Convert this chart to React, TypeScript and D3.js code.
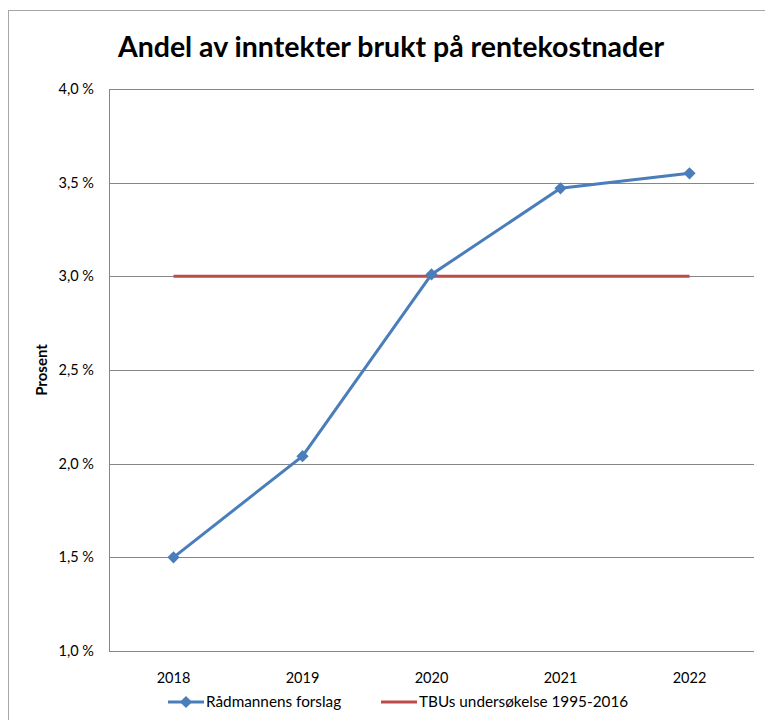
import React, { useEffect, useRef } from 'react';
import * as d3 from 'd3';

const years = ['2018', '2019', '2020', '2021', '2022'];
const radmannensForslag = [1.5, 2.04, 3.01, 3.47, 3.55];
const tbuUndersokelse = [3.0, 3.0, 3.0, 3.0, 3.0];
const yTicks = [1.0, 1.5, 2.0, 2.5, 3.0, 3.5, 4.0];

const App = () => {
  const ref = useRef<SVGSVGElement>(null);

  useEffect(() => {
    const svg = d3.select(ref.current);
    svg.selectAll('*').remove();
    const font = 'Lato, "Open Sans", sans-serif';

    const left = 109, right = 754, top = 89, bottom = 651;

    const x = d3.scaleBand().domain(years).range([left, right]);
    const y = d3.scaleLinear().domain([1, 4]).range([bottom, top]);
    const cx = (d: string) => (x(d) ?? 0) + x.bandwidth() / 2;

    // outer frame (cropped on right/bottom)
    svg.append('rect')
      .attr('x', 8.5).attr('y', 10.5)
      .attr('width', 800).attr('height', 800)
      .attr('fill', 'white').attr('stroke', '#a6a6a6').attr('stroke-width', 1);

    svg.append('text')
      .attr('x', 391).attr('y', 57)
      .attr('text-anchor', 'middle')
      .attr('font-family', font).attr('font-weight', 'bold').attr('font-size', 28.5)
      .text('Andel av inntekter brukt på rentekostnader');

    // gridlines
    svg.append('g').selectAll('line').data(yTicks).enter().append('line')
      .attr('x1', left).attr('x2', right)
      .attr('y1', d => Math.round(y(d)) + 0.5).attr('y2', d => Math.round(y(d)) + 0.5)
      .attr('stroke', '#868686').attr('stroke-width', 1);

    svg.append('line')
      .attr('x1', left + 0.5).attr('x2', left + 0.5)
      .attr('y1', top).attr('y2', bottom)
      .attr('stroke', '#868686').attr('stroke-width', 1);

    svg.append('g').selectAll('text').data(yTicks).enter().append('text')
      .attr('x', 94).attr('y', d => y(d) + 5)
      .attr('text-anchor', 'end')
      .attr('font-family', font).attr('font-size', 14.5)
      .text(d => d.toFixed(1).replace('.', ',') + ' %');

    svg.append('g').selectAll('text').data(years).enter().append('text')
      .attr('x', d => cx(d)).attr('y', 683)
      .attr('text-anchor', 'middle')
      .attr('font-family', font).attr('font-size', 14.5)
      .text(d => d);

    svg.append('text')
      .attr('transform', `translate(47,${(top + bottom) / 2}) rotate(-90)`)
      .attr('text-anchor', 'middle')
      .attr('font-family', font).attr('font-weight', 'bold').attr('font-size', 15)
      .text('Prosent');

    const line = d3.line<number>()
      .x((_, i) => cx(years[i]))
      .y(d => y(d));

    svg.append('path').datum(tbuUndersokelse)
      .attr('d', line).attr('fill', 'none')
      .attr('stroke', '#be4b48').attr('stroke-width', 3);

    svg.append('path').datum(radmannensForslag)
      .attr('d', line).attr('fill', 'none')
      .attr('stroke', '#4a7ebb').attr('stroke-width', 3);

    const diamond = d3.symbol().type(d3.symbolDiamond2).size(95);
    svg.append('g').selectAll('path').data(radmannensForslag).enter().append('path')
      .attr('d', diamond)
      .attr('transform', (d, i) => `translate(${cx(years[i])},${y(d)})`)
      .attr('fill', '#4a7ebb');

    // legend
    const ly = 702;
    const lg = svg.append('g');
    lg.append('line').attr('x1', 168).attr('x2', 204).attr('y1', ly).attr('y2', ly)
      .attr('stroke', '#4a7ebb').attr('stroke-width', 3);
    lg.append('path').attr('d', diamond).attr('transform', `translate(186,${ly})`).attr('fill', '#4a7ebb');
    lg.append('text').attr('x', 206).attr('y', ly + 5)
      .attr('font-family', font).attr('font-size', 15.3).text('Rådmannens forslag');
    lg.append('line').attr('x1', 381).attr('x2', 417).attr('y1', ly).attr('y2', ly)
      .attr('stroke', '#be4b48').attr('stroke-width', 3);
    lg.append('text').attr('x', 419).attr('y', ly + 5)
      .attr('font-family', font).attr('font-size', 15.3).text('TBUs undersøkelse 1995-2016');
  }, []);

  return <svg ref={ref} width={765} height={720} style={{ position: 'absolute', left: 0, top: 0 }} />;
};

export default App;
